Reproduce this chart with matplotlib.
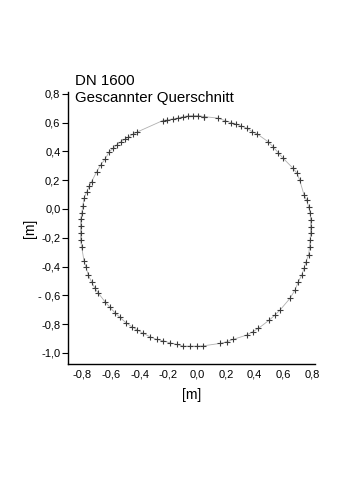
import matplotlib
matplotlib.use("Agg")
import matplotlib.pyplot as plt

plt.rcParams["font.family"] = ["Liberation Sans", "DejaVu Sans"]

# scanned cross-section points [m]
x_m = [0.048, 0.146, 0.194, 0.236, 0.271, 0.306, 0.347, 0.382, 0.417, 0.493,
       0.528, 0.563, 0.598, 0.667, 0.695, 0.713, 0.744, 0.761, 0.775, 0.786,
       0.790, 0.790, 0.789, 0.786, 0.782, 0.775, 0.758, 0.744, 0.728, 0.704,
       0.681, 0.646, 0.577, 0.542, 0.502, 0.426, 0.387, 0.345, 0.252, 0.206,
       0.160, 0.044, -0.002, -0.049, -0.096, -0.141, -0.188, -0.235, -0.281, -0.327,
       -0.374, -0.415, -0.454, -0.494, -0.536, -0.571, -0.605, -0.640, -0.687, -0.710,
       -0.733, -0.756, -0.772, -0.786, -0.802, -0.810, -0.810, -0.810, -0.809, -0.802,
       -0.795, -0.786, -0.767, -0.749, -0.733, -0.698, -0.670, -0.640, -0.610, -0.582,
       -0.559, -0.531, -0.501, -0.478, -0.447, -0.420, -0.239, -0.207, -0.165, -0.130,
       -0.096, -0.061, -0.026, 0.009, 0.048]
y_m = [0.642, 0.631, 0.614, 0.600, 0.591, 0.577, 0.561, 0.538, 0.522, 0.468,
       0.433, 0.392, 0.353, 0.283, 0.248, 0.202, 0.097, 0.063, 0.017, -0.031,
       -0.076, -0.125, -0.170, -0.216, -0.264, -0.320, -0.366, -0.412, -0.459, -0.506,
       -0.563, -0.621, -0.702, -0.737, -0.772, -0.830, -0.853, -0.876, -0.906, -0.923,
       -0.934, -0.951, -0.953, -0.953, -0.953, -0.941, -0.930, -0.916, -0.906, -0.888,
       -0.864, -0.841, -0.818, -0.791, -0.753, -0.721, -0.684, -0.645, -0.584, -0.551,
       -0.508, -0.459, -0.405, -0.360, -0.266, -0.219, -0.170, -0.118, -0.072, -0.030,
       0.021, 0.074, 0.120, 0.160, 0.190, 0.259, 0.306, 0.346, 0.398, 0.422,
       0.445, 0.466, 0.485, 0.499, 0.519, 0.533, 0.614, 0.619, 0.626, 0.633,
       0.642, 0.647, 0.649, 0.649, 0.642]

xticks = [-0.8, -0.6, -0.4, -0.2, 0.0, 0.2, 0.4, 0.6, 0.8]
xticklabels = ["-0,8", "-0,6", "-0,4", "-0,2", "0,0", "0,2", "0,4", "0,6", "0,8"]
yticks = [0.8, 0.6, 0.4, 0.2, 0.0, -0.2, -0.4, -0.6, -0.8, -1.0]
yticklabels = ["0,8", "0,6", "0,4", "0,2", "0,0", "-0,2", "-0,4", "- 0,6", "-0,8", "-1,0"]

fig = plt.figure(figsize=(3.6, 4.8), dpi=100)
ax = fig.add_axes([0.189, 0.2417, 0.686, 0.567])

ax.plot(x_m, y_m, color="#b0b0b0", lw=0.6, zorder=1)
ax.plot(x_m, y_m, ls="none", marker="+", ms=4.5, mew=0.8, color="#3a3a3a", zorder=2)

ax.set_xlim(-0.897, 0.82)
ax.set_ylim(-1.077, 0.814)

for s in ("top", "right"):
    ax.spines[s].set_visible(False)
for s in ("left", "bottom"):
    ax.spines[s].set_linewidth(1.0)
    ax.spines[s].set_color("black")

ax.set_xticks(xticks)
ax.set_xticklabels(xticklabels, fontsize=8)
ax.set_yticks(yticks)
ax.set_yticklabels(yticklabels, fontsize=8)
ax.tick_params(axis="x", length=0, pad=4)
ax.tick_params(axis="y", direction="out", length=4, width=0.8, pad=1.5)

ax.set_xlabel("[m]", fontsize=10, labelpad=6)
ax.set_ylabel("[m]", fontsize=10, labelpad=1)

fig.text(0.208, 0.823, "DN 1600", fontsize=10.8, va="baseline", ha="left")
fig.text(0.208, 0.7875, "Gescannter Querschnitt", fontsize=10.8, va="baseline", ha="left")

fig.savefig("out.png", dpi=100, facecolor="white")
